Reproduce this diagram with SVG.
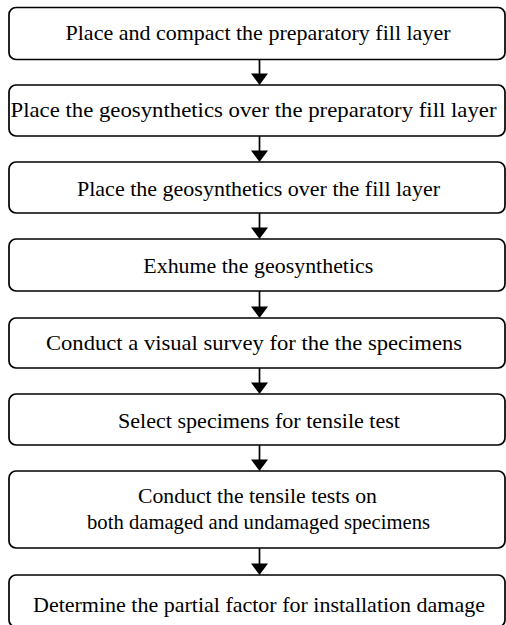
<svg xmlns="http://www.w3.org/2000/svg" width="506" height="625" viewBox="0 0 506 625">
<style>
.box{fill:#fff;stroke:#000;stroke-width:1.7}
.t{font-family:"Liberation Serif","Times New Roman",Times,serif;font-size:21px;fill:#000}
.ln{stroke:#000;stroke-width:1.7;fill:none}
.hd{fill:#000}
</style>
<rect width="506" height="625" fill="#fff"/>
<g id="connectors">
<line class="ln" x1="259.5" y1="59.5" x2="259.5" y2="76"/><polygon class="hd" points="251,73.5 268,73.5 259.5,85"/>
<line class="ln" x1="259.5" y1="136" x2="259.5" y2="153"/><polygon class="hd" points="251,150.5 268,150.5 259.5,162"/>
<line class="ln" x1="259.5" y1="213" x2="259.5" y2="230"/><polygon class="hd" points="251,227.5 268,227.5 259.5,239"/>
<line class="ln" x1="259.5" y1="291" x2="259.5" y2="308"/><polygon class="hd" points="251,306.5 268,306.5 259.5,318"/>
<line class="ln" x1="259.5" y1="368" x2="259.5" y2="385"/><polygon class="hd" points="251,382.5 268,382.5 259.5,394"/>
<line class="ln" x1="259.5" y1="445" x2="259.5" y2="462"/><polygon class="hd" points="251,459.5 268,459.5 259.5,471"/>
<line class="ln" x1="259.5" y1="548" x2="259.5" y2="565"/><polygon class="hd" points="251,563.5 268,563.5 259.5,575"/>
</g>
<g id="n1"><rect class="box" x="9" y="7.5" width="496" height="52" rx="7"/><text class="t" x="65.5" y="39.5" textLength="385" lengthAdjust="spacingAndGlyphs">Place and compact the preparatory fill layer</text></g>
<g id="n2"><rect class="box" x="9" y="85" width="496" height="51" rx="7"/><text class="t" x="10.5" y="117" textLength="486" lengthAdjust="spacingAndGlyphs">Place the geosynthetics over the preparatory fill layer</text></g>
<g id="n3"><rect class="box" x="9" y="162" width="496" height="51" rx="7"/><text class="t" x="77" y="195.5" textLength="363" lengthAdjust="spacingAndGlyphs">Place the geosynthetics over the fill layer</text></g>
<g id="n4"><rect class="box" x="9" y="239" width="496" height="52" rx="7"/><text class="t" x="143.3" y="272.7" textLength="230" lengthAdjust="spacingAndGlyphs">Exhume the geosynthetics</text></g>
<g id="n5"><rect class="box" x="9" y="318" width="496" height="50" rx="7"/><text class="t" x="46" y="350" textLength="416" lengthAdjust="spacingAndGlyphs">Conduct a visual survey for the the specimens</text></g>
<g id="n6"><rect class="box" x="9" y="394" width="496" height="51" rx="7"/><text class="t" x="118" y="428" textLength="282" lengthAdjust="spacingAndGlyphs">Select specimens for tensile test</text></g>
<g id="n7"><rect class="box" x="9" y="471" width="496" height="77" rx="7"/><text class="t" x="138" y="503" textLength="239" lengthAdjust="spacingAndGlyphs">Conduct the tensile tests on</text><text class="t" x="87" y="529" textLength="343" lengthAdjust="spacingAndGlyphs">both damaged and undamaged specimens</text></g>
<g id="n8"><rect class="box" x="9" y="575" width="496" height="52" rx="7"/><text class="t" x="33" y="611.5" textLength="452" lengthAdjust="spacingAndGlyphs">Determine the partial factor for installation damage</text></g>
</svg>
